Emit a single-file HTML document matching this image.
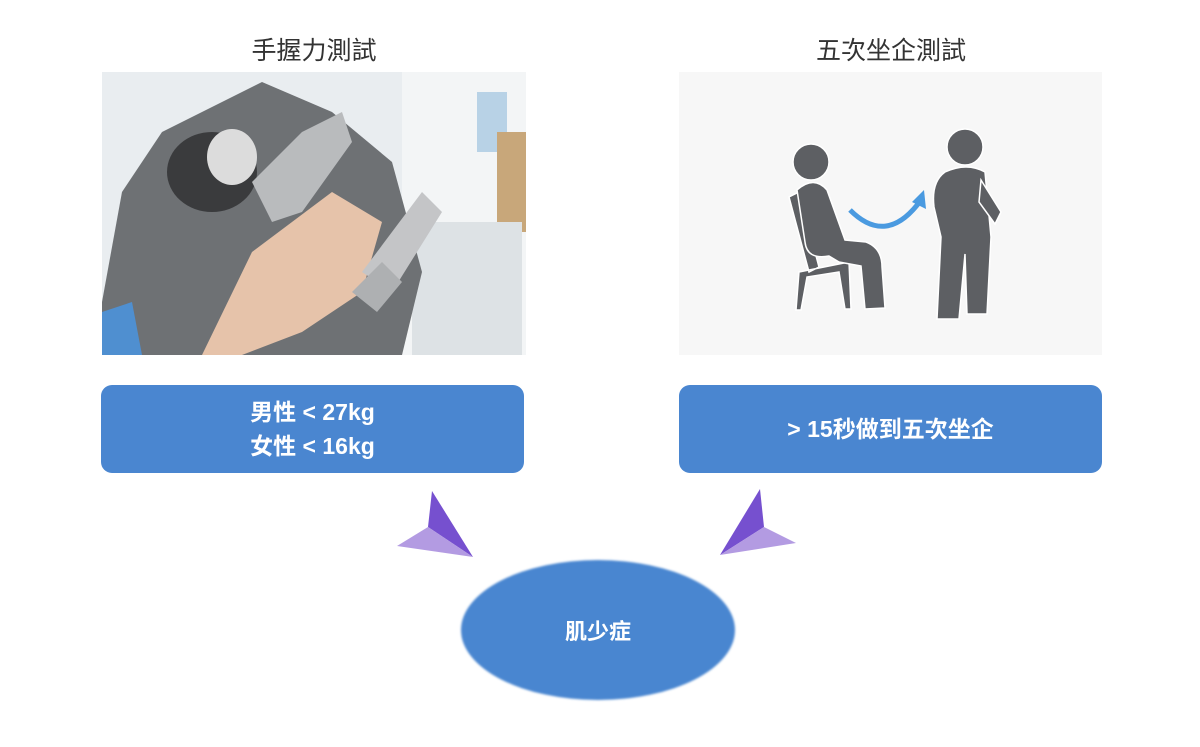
<!DOCTYPE html>
<html><head><meta charset="utf-8"><style>
body{margin:0;width:1200px;height:747px;background:#fff;position:relative;overflow:hidden;font-family:"Liberation Sans","Noto Sans CJK TC",sans-serif}
.t{position:absolute;font-size:25px;color:#333;text-align:center;width:424px}
.box{position:absolute;background:#4a86d0;border-radius:11px;color:#fff;font-weight:bold;font-size:23px;display:flex;align-items:center;justify-content:center;text-align:center;line-height:34px}
</style></head><body>
<div class="t" style="left:102px;top:31px">手握力測試</div>
<div class="t" style="left:679px;top:31px">五次坐企測試</div>
<svg style="position:absolute;left:102px;top:72px" width="424" height="283">
<rect width="424" height="283" fill="#e9edf0"/>
<rect x="300" y="0" width="124" height="283" fill="#f3f5f6"/>
<rect x="375" y="20" width="30" height="60" fill="#b8d2e6"/>
<rect x="395" y="60" width="29" height="100" fill="#c8a77a"/>
<rect x="310" y="150" width="110" height="133" fill="#dde2e5"/>
<path d="M0 230 L20 120 L60 60 L120 30 L160 10 L230 40 L290 90 L320 200 L300 283 L0 283Z" fill="#6e7174"/>
<path d="M0 240 L0 283 L40 283 L30 230Z" fill="#4f8fd0"/>
<path d="M150 180 L230 120 L280 150 L260 220 L200 260 L140 283 L100 283Z" fill="#e6c3aa"/>
<ellipse cx="110" cy="100" rx="45" ry="40" fill="#3a3b3d"/>
<ellipse cx="130" cy="85" rx="25" ry="28" fill="#dcdcdc"/>
<path d="M150 110 L200 60 L240 40 L250 70 L200 140 L170 150Z" fill="#b9bbbd"/>
<path d="M260 200 L320 120 L340 140 L290 220Z" fill="#c4c5c7"/>
<path d="M250 220 L280 190 L300 210 L275 240Z" fill="#aeb0b2"/>
</svg>
<svg style="position:absolute;left:679px;top:72px" width="423" height="283">
<rect width="423" height="283" fill="#f7f7f7"/>
<g fill="#5d5f63" stroke="#fff" stroke-width="1.5">
<path d="M110 125 L120 120 L140 195 L130 200Z M120 200 L170 190 L172 237 L166 237 L160 200 L128 205 L122 238 L117 238Z"/>
<circle cx="132" cy="90" r="18"/>
<path d="M118 118 Q135 103 148 118 L166 168 L187 170 Q203 176 203 195 L206 236 L186 237 L182 194 L160 190 L150 184 Q128 188 126 170 Z"/>
<circle cx="286" cy="75" r="18"/>
<path d="M266 100 Q288 90 306 100 L312 165 L308 242 L288 242 L286 182 L280 247 L258 247 L262 165 L255 135 Q252 110 266 100Z"/>
<path d="M302 108 L322 140 L316 152 L300 130Z"/>
</g>
<path d="M171 138 Q208 175 242 128" fill="none" stroke="#4a9ae0" stroke-width="5"/>
<path d="M233 130 L245 118 L247 137Z" fill="#4a9ae0"/>
</svg>
<div class="box" style="left:101px;top:385px;width:423px;height:88px">男性 &lt; 27kg<br>女性 &lt; 16kg</div>
<div class="box" style="left:679px;top:385px;width:423px;height:88px">&gt; 15秒做到五次坐企</div>
<svg style="position:absolute;left:0;top:0" width="1200" height="747">
<defs><filter id="b"><feGaussianBlur stdDeviation="1"/></filter></defs>
<polygon points="432,491 428,527 473,557" fill="#7650cf"/>
<polygon points="397,546 428,527 473,557" fill="#b39be2"/>
<polygon points="760,489 764,527 720,555" fill="#7650cf"/>
<polygon points="796,543 764,527 720,555" fill="#b39be2"/>
<ellipse cx="598" cy="630" rx="137" ry="70" fill="#4a86d0" filter="url(#b)"/>
<text x="598" y="639" fill="#fff" font-size="22" font-weight="bold" text-anchor="middle" font-family="Liberation Sans,Noto Sans CJK TC,sans-serif">肌少症</text>
</svg>
</body></html>
